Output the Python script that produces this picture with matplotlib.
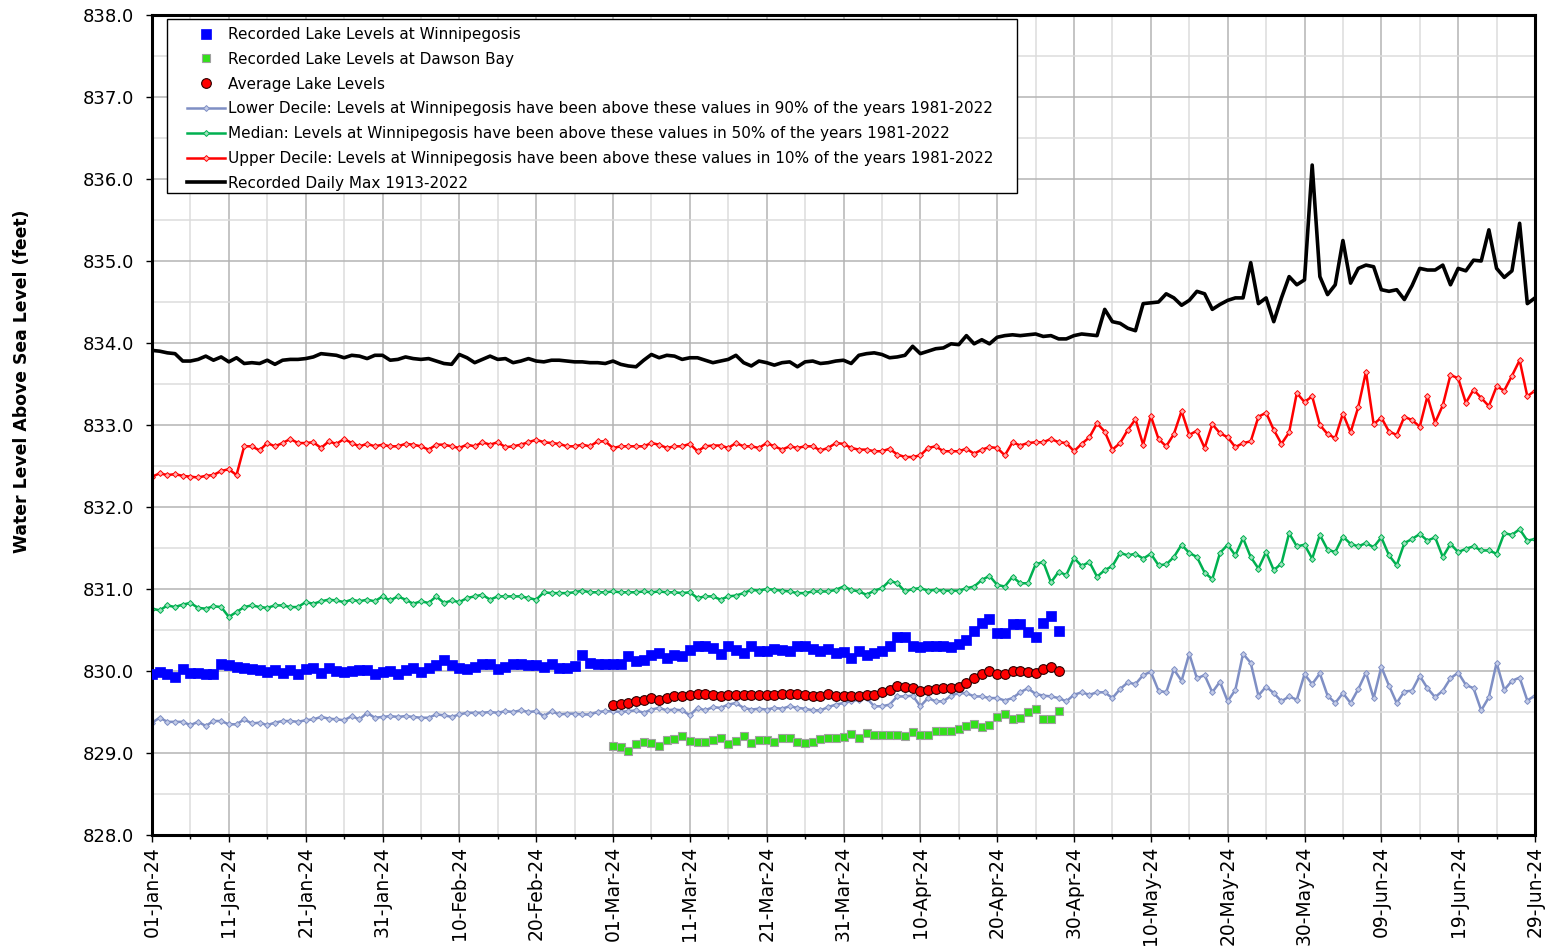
import matplotlib
matplotlib.use("Agg")
import matplotlib.pyplot as plt
import pandas as pd
from matplotlib.patches import Rectangle
from matplotlib.ticker import MultipleLocator, FixedLocator, FormatStrFormatter

plt.rcParams['font.family'] = ['DejaVu Sans']

# ---- data -------------------------------------------------------------
dates = pd.date_range('2024-01-01', '2024-06-29', freq='D')

winnipegosis = [
    829.96, 829.99, 829.96, 829.93, 830.02, 829.97, 829.97, 829.96, 829.96, 830.09,
    830.07, 830.05, 830.04, 830.02, 830.01, 829.99, 830.01, 829.98, 830.01, 829.96,
    830.02, 830.04, 829.98, 830.04, 830.00, 829.99, 830.00, 830.01, 830.01, 829.96,
    829.99, 830.00, 829.96, 830.01, 830.04, 829.99, 830.04, 830.07, 830.13, 830.07,
    830.04, 830.03, 830.05, 830.09, 830.09, 830.02, 830.05, 830.09, 830.09, 830.07,
    830.07, 830.05, 830.09, 830.04, 830.04, 830.06, 830.20, 830.10, 830.08, 830.09,
    830.09, 830.09, 830.18, 830.12, 830.13, 830.20, 830.22, 830.16, 830.20, 830.18,
    830.26, 830.30, 830.31, 830.28, 830.21, 830.30, 830.26, 830.22, 830.31, 830.25,
    830.25, 830.27, 830.26, 830.24, 830.31, 830.31, 830.27, 830.25, 830.27, 830.22,
    830.23, 830.16, 830.24, 830.20, 830.22, 830.25, 830.30, 830.42, 830.41, 830.31,
    830.29, 830.30, 830.31, 830.30, 830.29, 830.33, 830.38, 830.49, 830.58, 830.64,
    830.46, 830.46, 830.57, 830.57, 830.47, 830.41, 830.59, 830.67, 830.49,
]

dawson_bay = [
    829.09, 829.07, 829.02, 829.11, 829.14, 829.12, 829.08, 829.16, 829.17, 829.21,
    829.15, 829.13, 829.13, 829.16, 829.18, 829.11, 829.15, 829.21, 829.12, 829.16,
    829.16, 829.14, 829.18, 829.18, 829.14, 829.12, 829.14, 829.17, 829.18, 829.18,
    829.19, 829.23, 829.18, 829.24, 829.22, 829.22, 829.22, 829.22, 829.21, 829.26,
    829.22, 829.22, 829.27, 829.27, 829.27, 829.29, 829.33, 829.35, 829.32, 829.34,
    829.44, 829.48, 829.42, 829.43, 829.50, 829.54, 829.42, 829.41, 829.51,
]

average_level = [
    829.59, 829.60, 829.61, 829.63, 829.65, 829.67, 829.65, 829.67, 829.69, 829.70,
    829.71, 829.72, 829.72, 829.71, 829.70, 829.71, 829.71, 829.71, 829.71, 829.71,
    829.71, 829.71, 829.72, 829.72, 829.72, 829.71, 829.70, 829.70, 829.72, 829.70,
    829.70, 829.70, 829.70, 829.71, 829.71, 829.74, 829.77, 829.82, 829.81, 829.79,
    829.76, 829.77, 829.78, 829.79, 829.79, 829.80, 829.85, 829.92, 829.96, 830.00,
    829.96, 829.96, 830.00, 830.00, 829.99, 829.98, 830.02, 830.05, 830.00,
]

lower_decile = [
    829.37, 829.43, 829.38, 829.38, 829.38, 829.34, 829.38, 829.33, 829.39, 829.39,
    829.35, 829.35, 829.41, 829.36, 829.37, 829.34, 829.37, 829.39, 829.39, 829.38,
    829.40, 829.41, 829.44, 829.42, 829.41, 829.40, 829.45, 829.41, 829.49, 829.43,
    829.44, 829.45, 829.44, 829.45, 829.44, 829.43, 829.43, 829.47, 829.46, 829.44,
    829.47, 829.49, 829.49, 829.49, 829.50, 829.49, 829.51, 829.50, 829.52, 829.50,
    829.51, 829.45, 829.51, 829.47, 829.48, 829.48, 829.47, 829.47, 829.50, 829.51,
    829.51, 829.50, 829.51, 829.52, 829.49, 829.53, 829.55, 829.52, 829.53, 829.52,
    829.46, 829.55, 829.52, 829.56, 829.55, 829.59, 829.61, 829.55, 829.53, 829.54,
    829.53, 829.55, 829.54, 829.57, 829.55, 829.54, 829.52, 829.52, 829.56, 829.59,
    829.61, 829.63, 829.65, 829.67, 829.57, 829.57, 829.59, 829.69, 829.69, 829.70,
    829.57, 829.67, 829.63, 829.63, 829.70, 829.73, 829.73, 829.69, 829.69, 829.67,
    829.67, 829.64, 829.67, 829.74, 829.79, 829.72, 829.70, 829.69, 829.67, 829.63,
    829.71, 829.74, 829.71, 829.74, 829.74, 829.67, 829.78, 829.86, 829.84, 829.95,
    829.99, 829.76, 829.74, 830.02, 829.88, 830.21, 829.91, 829.95, 829.74, 829.87,
    829.63, 829.77, 830.21, 830.10, 829.70, 829.81, 829.73, 829.63, 829.69, 829.65,
    829.96, 829.84, 829.97, 829.70, 829.61, 829.73, 829.61, 829.78, 829.98, 829.67,
    830.05, 829.82, 829.61, 829.75, 829.76, 829.94, 829.79, 829.68, 829.76, 829.91,
    829.98, 829.83, 829.79, 829.52, 829.68, 830.10, 829.77, 829.88, 829.92, 829.64,
    829.70,
]

median_level = [
    830.76, 830.74, 830.80, 830.78, 830.81, 830.83, 830.77, 830.76, 830.79, 830.78,
    830.66, 830.72, 830.78, 830.80, 830.78, 830.77, 830.80, 830.80, 830.78, 830.78,
    830.84, 830.82, 830.85, 830.87, 830.86, 830.84, 830.87, 830.85, 830.87, 830.85,
    830.91, 830.86, 830.91, 830.87, 830.82, 830.85, 830.83, 830.91, 830.83, 830.86,
    830.84, 830.89, 830.91, 830.93, 830.87, 830.91, 830.91, 830.91, 830.91, 830.89,
    830.87, 830.96, 830.95, 830.95, 830.95, 830.96, 830.98, 830.96, 830.96, 830.96,
    830.97, 830.96, 830.96, 830.96, 830.97, 830.96, 830.97, 830.96, 830.96, 830.95,
    830.96, 830.89, 830.91, 830.91, 830.87, 830.91, 830.92, 830.95, 830.99, 830.98,
    831.00, 830.99, 830.98, 830.97, 830.95, 830.95, 830.97, 830.97, 830.97, 830.99,
    831.03, 830.99, 830.97, 830.93, 830.98, 831.01, 831.10, 831.07, 830.97, 831.00,
    831.01, 830.98, 830.99, 830.98, 830.98, 830.98, 831.01, 831.03, 831.11, 831.16,
    831.05, 831.03, 831.15, 831.07, 831.07, 831.30, 831.33, 831.08, 831.21, 831.17,
    831.38, 831.28, 831.33, 831.15, 831.23, 831.28, 831.44, 831.41, 831.43, 831.37,
    831.43, 831.29, 831.30, 831.39, 831.54, 831.44, 831.39, 831.20, 831.12, 831.44,
    831.54, 831.41, 831.62, 831.39, 831.25, 831.45, 831.23, 831.31, 831.68, 831.52,
    831.54, 831.37, 831.66, 831.48, 831.45, 831.64, 831.55, 831.52, 831.56, 831.51,
    831.63, 831.41, 831.29, 831.56, 831.61, 831.67, 831.59, 831.63, 831.39, 831.55,
    831.45, 831.49, 831.52, 831.47, 831.47, 831.43, 831.68, 831.66, 831.73, 831.59,
    831.61,
]

upper_decile = [
    832.37, 832.41, 832.39, 832.40, 832.38, 832.37, 832.36, 832.38, 832.39, 832.44,
    832.46, 832.39, 832.74, 832.74, 832.69, 832.78, 832.74, 832.78, 832.83, 832.78,
    832.78, 832.79, 832.72, 832.80, 832.77, 832.83, 832.78, 832.74, 832.77, 832.74,
    832.76, 832.74, 832.74, 832.77, 832.76, 832.74, 832.70, 832.76, 832.76, 832.74,
    832.72, 832.76, 832.74, 832.79, 832.76, 832.79, 832.73, 832.74, 832.76, 832.79,
    832.82, 832.79, 832.78, 832.77, 832.74, 832.74, 832.76, 832.74, 832.80, 832.80,
    832.72, 832.74, 832.74, 832.74, 832.74, 832.78, 832.76, 832.72, 832.74, 832.74,
    832.77, 832.68, 832.74, 832.75, 832.75, 832.72, 832.78, 832.74, 832.74, 832.72,
    832.78, 832.74, 832.70, 832.74, 832.72, 832.74, 832.74, 832.69, 832.72, 832.78,
    832.77, 832.72, 832.70, 832.70, 832.68, 832.68, 832.71, 832.64, 832.61, 832.61,
    832.63, 832.72, 832.74, 832.68, 832.68, 832.68, 832.71, 832.65, 832.70, 832.73,
    832.72, 832.63, 832.79, 832.75, 832.78, 832.79, 832.79, 832.83, 832.79, 832.78,
    832.68, 832.77, 832.85, 833.02, 832.92, 832.70, 832.78, 832.94, 833.07, 832.76,
    833.11, 832.83, 832.74, 832.89, 833.17, 832.88, 832.93, 832.72, 833.01, 832.90,
    832.85, 832.73, 832.78, 832.80, 833.10, 833.15, 832.94, 832.77, 832.91, 833.39,
    833.28, 833.35, 833.00, 832.89, 832.84, 833.14, 832.91, 833.22, 833.65, 833.01,
    833.09, 832.92, 832.88, 833.10, 833.06, 832.98, 833.35, 833.03, 833.24, 833.61,
    833.57, 833.27, 833.43, 833.33, 833.23, 833.47, 833.42, 833.60, 833.79, 833.35,
    833.42,
]

daily_max = [
    833.91, 833.90, 833.88, 833.87, 833.78, 833.78, 833.80, 833.84, 833.79, 833.83,
    833.77, 833.82, 833.75, 833.76, 833.75, 833.79, 833.74, 833.79, 833.80, 833.80,
    833.81, 833.83, 833.87, 833.86, 833.85, 833.82, 833.85, 833.84, 833.81, 833.85,
    833.85, 833.79, 833.80, 833.83, 833.81, 833.80, 833.81, 833.78, 833.75, 833.74,
    833.86, 833.82, 833.76, 833.80, 833.84, 833.80, 833.81, 833.76, 833.78, 833.81,
    833.78, 833.77, 833.79, 833.79, 833.78, 833.77, 833.77, 833.76, 833.76, 833.75,
    833.78, 833.74, 833.72, 833.71, 833.79, 833.86, 833.82, 833.85, 833.84, 833.80,
    833.82, 833.82, 833.79, 833.76, 833.78, 833.80, 833.85, 833.76, 833.72, 833.78,
    833.76, 833.73, 833.76, 833.77, 833.71, 833.77, 833.78, 833.75, 833.76, 833.78,
    833.79, 833.75, 833.85, 833.87, 833.88, 833.86, 833.82, 833.83, 833.85, 833.96,
    833.87, 833.90, 833.93, 833.94, 833.99, 833.98, 834.09, 833.99, 834.04, 833.99,
    834.07, 834.09, 834.10, 834.09, 834.10, 834.11, 834.08, 834.09, 834.05, 834.05,
    834.09, 834.11, 834.10, 834.09, 834.41, 834.26, 834.24, 834.18, 834.15, 834.48,
    834.49, 834.50, 834.60, 834.55, 834.46, 834.52, 834.63, 834.60, 834.41, 834.47,
    834.52, 834.55, 834.55, 834.98, 834.48, 834.55, 834.26, 834.55, 834.81, 834.71,
    834.77, 836.17, 834.81, 834.59, 834.71, 835.25, 834.73, 834.91, 834.95, 834.93,
    834.65, 834.63, 834.65, 834.53, 834.70, 834.91, 834.89, 834.89, 834.95, 834.71,
    834.91, 834.88, 835.01, 835.00, 835.38, 834.91, 834.80, 834.88, 835.46, 834.48,
    834.55,
]

labels = [
    "Recorded Lake Levels at Winnipegosis",
    "Recorded Lake Levels at Dawson Bay",
    "Average Lake Levels",
    "Lower Decile: Levels at Winnipegosis have been above these values in 90% of the years 1981-2022",
    "Median: Levels at Winnipegosis have been above these values in 50% of the years 1981-2022",
    "Upper Decile: Levels at Winnipegosis have been above these values in 10% of the years 1981-2022",
    "Recorded Daily Max 1913-2022",
]

tick_dates = dates[::10]
tick_labels = [d.strftime('%d-%b-%y') for d in tick_dates]
minor_dates = dates[5::10]

wpg_dates = dates[:len(winnipegosis)]
dwb_dates = dates[60:60 + len(dawson_bay)]
avg_dates = dates[60:60 + len(average_level)]

# ---- figure -----------------------------------------------------------
W, H = 1546, 948
fig = plt.figure(figsize=(W / 100, H / 100), dpi=100)
ax = fig.add_axes([152 / W, 113 / H, 1383 / W, 820 / H])

decile_style = dict(lw=1.8, marker='D', ms=3.0, mew=0.7, zorder=2)
h_low, = ax.plot(dates, lower_decile, color='#7F8FC4', mfc='#C4CCE8',
                 mec='#7F8FC4', label=labels[3], **decile_style)
h_med, = ax.plot(dates, median_level, color='#00B050', mfc='#9EE3BD',
                 mec='#00B050', label=labels[4], **decile_style)
h_up, = ax.plot(dates, upper_decile, color='#FF0000', mfc='#FFB0B0',
                mec='#FF0000', label=labels[5], **decile_style)
h_max, = ax.plot(dates, daily_max, color='black', lw=2.6, zorder=2.5,
                 solid_joinstyle='round', label=labels[6])
h_wpg, = ax.plot(wpg_dates, winnipegosis, ls='none', marker='s', ms=6.8,
                 mfc='#0000FF', mec='#0000FF', mew=0.5, zorder=3,
                 label=labels[0])
h_dwb, = ax.plot(dwb_dates, dawson_bay, ls='none', marker='s', ms=6.0,
                 mfc='#33E01A', mec='#A0A0A0', mew=0.8, zorder=3,
                 label=labels[1])
h_avg, = ax.plot(avg_dates, average_level, ls='none', marker='o', ms=7.0,
                 mfc='#FF0000', mec='#2A0000', mew=0.8, zorder=3.5,
                 label=labels[2])

ax.set_xlim(dates[0], dates[-1])
ax.set_ylim(828, 838)

ax.xaxis.set_major_locator(FixedLocator(matplotlib.dates.date2num(tick_dates)))
ax.xaxis.set_minor_locator(FixedLocator(matplotlib.dates.date2num(minor_dates)))
ax.set_xticklabels(tick_labels)
ax.yaxis.set_major_locator(MultipleLocator(1.0))
ax.yaxis.set_minor_locator(MultipleLocator(0.5))
ax.yaxis.set_major_formatter(FormatStrFormatter('%.1f'))

ax.set_axisbelow(True)
ax.grid(which='major', color='#B4B4B4', lw=1.1)
ax.grid(which='minor', color='#DCDCDC', lw=1.1)

ax.tick_params(axis='x', which='major', direction='out', length=5, width=1,
               labelsize=13.5, labelrotation=90, pad=3)
ax.tick_params(axis='x', which='minor', direction='out', length=3, width=1)
ax.tick_params(axis='y', which='major', direction='out', length=4, width=1,
               labelsize=13, pad=9)
ax.tick_params(axis='y', which='minor', length=0)

for s in ax.spines.values():
    s.set_linewidth(2.2)
    s.set_color('black')

fig.text(22 / W, 1 - 381 / H, 'Water Level Above Sea Level (feet)',
         rotation=90, ha='center', va='center', fontsize=12.4,
         fontweight='bold')

# legend box and entries
fig.add_artist(Rectangle((167 / W, 1 - 193 / H), 850 / W, 174 / H,
                         transform=fig.transFigure, facecolor='white',
                         edgecolor='black', lw=1.0, zorder=4))
fig.legend([h_wpg, h_dwb, h_avg, h_low, h_med, h_up, h_max], labels,
           loc='upper left', bbox_to_anchor=(187 / W, 1 - 27 / H),
           bbox_transform=fig.transFigure, frameon=False, fontsize=11.0,
           borderpad=0, handlelength=2.5, handletextpad=0.2,
           labelspacing=0.64, numpoints=1, borderaxespad=0)

fig.savefig('out.png', dpi=100)
